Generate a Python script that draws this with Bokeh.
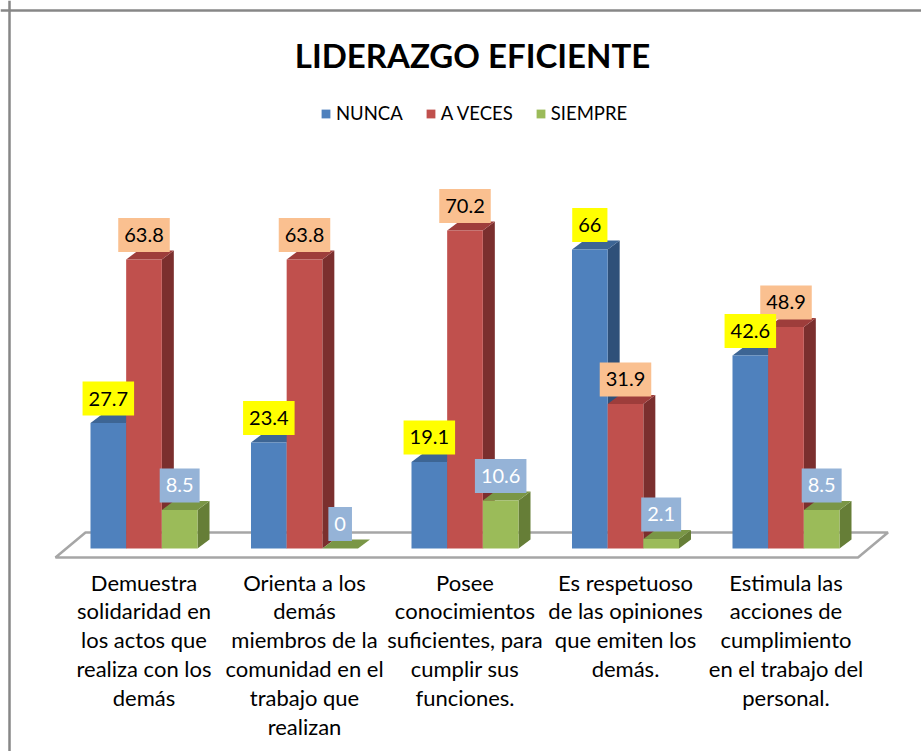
import numpy as np
from bokeh.plotting import figure
from bokeh.models import Range1d, Legend, LegendItem, Label, Span, ColumnDataSource
from bokeh.core.properties import value
from bokeh.embed import file_html
from bokeh.resources import INLINE

# ---------------- data ----------------
title_text = "LIDERAZGO EFICIENTE"
categories = [
    "Demuestra\nsolidaridad en\nlos actos que\nrealiza con los\ndemás",
    "Orienta a los\ndemás\nmiembros de la\ncomunidad en el\ntrabajo que\nrealizan",
    "Posee\nconocimientos\nsuficientes, para\ncumplir sus\nfunciones.",
    "Es respetuoso\nde las opiniones\nque emiten los\ndemás.",
    "Estimula las\nacciones de\ncumplimiento\nen el trabajo del\npersonal.",
]
series_names = ["NUNCA", "A VECES", "SIEMPRE"]
nunca = [27.7, 23.4, 19.1, 66, 42.6]
a_veces = [63.8, 63.8, 70.2, 31.9, 48.9]
siempre = [8.5, 0, 10.6, 2.1, 8.5]
series_values = [nunca, a_veces, siempre]

# ---------------- styles / layout ----------------
W, H = 921, 751
GROUP_PX = 160.5        # pixels per category
UNIT_PX = 4.53          # pixels per value unit
BASE_PAGE_Y = 548       # page y of value 0 (front)
FIRST_CX_PAGE = 143.5   # page x of first category centre

X0 = -FIRST_CX_PAGE / GROUP_PX
X1 = X0 + W / GROUP_PX
Y1 = BASE_PAGE_Y / UNIT_PX
Y0 = Y1 - H / UNIT_PX


def xd(px):
    return X0 + px / GROUP_PX


def yd(py):
    return Y1 - py / UNIT_PX


BAR_W = 35.67 / GROUP_PX
DEPTH_X = 12 / GROUP_PX
DEPTH_Y = 9 / UNIT_PX
LABEL_GAP = 24.5 / UNIT_PX

front_colors = ["#4F81BD", "#C0504D", "#9BBB59"]
top_colors = ["#3D6594", "#9E3D3B", "#7A9646"]
side_colors = ["#2F5079", "#7B2F2E", "#667E37"]
label_bg = ["#FFFF00", "#FAC090", "#95B3D7"]
label_fg = ["#000000", "#000000", "#FFFFFF"]
FONT = "Lato"

p = figure(width=W, height=H, output_backend="svg", toolbar_location=None,
           x_range=Range1d(X0, X1), y_range=Range1d(Y0, Y1),
           x_axis_location=None, y_axis_location=None, min_border=0)
p.grid.visible = False
p.outline_line_color = None
p.background_fill_color = "white"
p.border_fill_color = "white"

# chart frame (left and top edges visible in reference)
p.add_layout(Span(location=xd(9), dimension="height", line_color="#878787", line_width=2.5))
p.add_layout(Span(location=yd(10), dimension="width", line_color="#878787", line_width=2.5))

# ---------------- floor ----------------
n = len(categories)
f_front_y = -9 / UNIT_PX
f_back_y = 16 / UNIT_PX
f_front_dx = -8.25 / GROUP_PX
f_back_dx = 21.75 / GROUP_PX
floor_x = [-0.5 + f_front_dx, n - 0.5 + f_front_dx, n - 0.5 + f_back_dx, -0.5 + f_back_dx]
floor_y = [f_front_y, f_front_y, f_back_y, f_back_y]
p.patch(floor_x, floor_y, fill_color="white", line_color="#A6A6A6", line_width=2.5)

# ---------------- 3D bars ----------------
xs_center = np.arange(n, dtype=float)
legend_items = []
for s, vals in enumerate(series_values):
    vals = np.array(vals, dtype=float)
    left = xs_center + (s - 1.5) * BAR_W
    right = left + BAR_W
    side_xs = [[r, r, r + DEPTH_X, r + DEPTH_X] for r in right]
    side_ys = [[0, v, v + DEPTH_Y, DEPTH_Y] for v in vals]
    p.patches(side_xs, side_ys, fill_color=side_colors[s], line_color=None)
    top_xs = [[l, r, r + DEPTH_X, l + DEPTH_X] for l, r in zip(left, right)]
    top_ys = [[v, v, v + DEPTH_Y, v + DEPTH_Y] for v in vals]
    p.patches(top_xs, top_ys, fill_color=top_colors[s], line_color=None)
    src = ColumnDataSource(dict(left=left, right=right, bottom=np.zeros(n), top=vals))
    r = p.quad(left="left", right="right", bottom="bottom", top="top", source=src,
               fill_color=front_colors[s], line_color=None)
    legend_items.append(LegendItem(label=series_names[s], renderers=[r]))

# ---------------- data labels ----------------
for s in [2, 1, 0]:
    vals = np.array(series_values[s], dtype=float)
    cx = xs_center + (s - 1) * BAR_W
    src = ColumnDataSource(dict(x=cx, y=vals + LABEL_GAP,
                                t=[f"{v:g}" for v in series_values[s]]))
    p.text(x="x", y="y", text="t", source=src, text_align="center",
           text_baseline="middle", text_font=value(FONT), text_font_size="20px",
           text_color=label_fg[s], background_fill_color=label_bg[s],
           padding=dict(left=6, right=6, top=10, bottom=10))

# ---------------- category labels ----------------
cat_src = ColumnDataSource(dict(x=xs_center, y=[yd(568)] * n, t=categories))
p.text(x="x", y="y", text="t", source=cat_src, text_align="center",
       text_baseline="top", text_font=value(FONT), text_font_size="22px",
       text_color="#000000", text_line_height=1.07)

# ---------------- title ----------------
p.add_layout(Label(x=xd(472), y=yd(54), text=title_text, text_align="center",
                   text_baseline="middle", text_font=FONT, text_font_style="bold",
                   text_font_size="33px", text_color="#000000"))

# ---------------- legend ----------------
legend = Legend(items=legend_items, orientation="horizontal", location=(320, 627),
                padding=0, margin=0, spacing=22, label_standoff=5,
                glyph_width=11, glyph_height=11, label_height=20,
                label_text_font=FONT, label_text_font_size="18.5px",
                label_text_color="#000000",
                border_line_color=None, background_fill_alpha=0)
p.add_layout(legend)

open("out.html", "w").write(file_html(p, INLINE))
